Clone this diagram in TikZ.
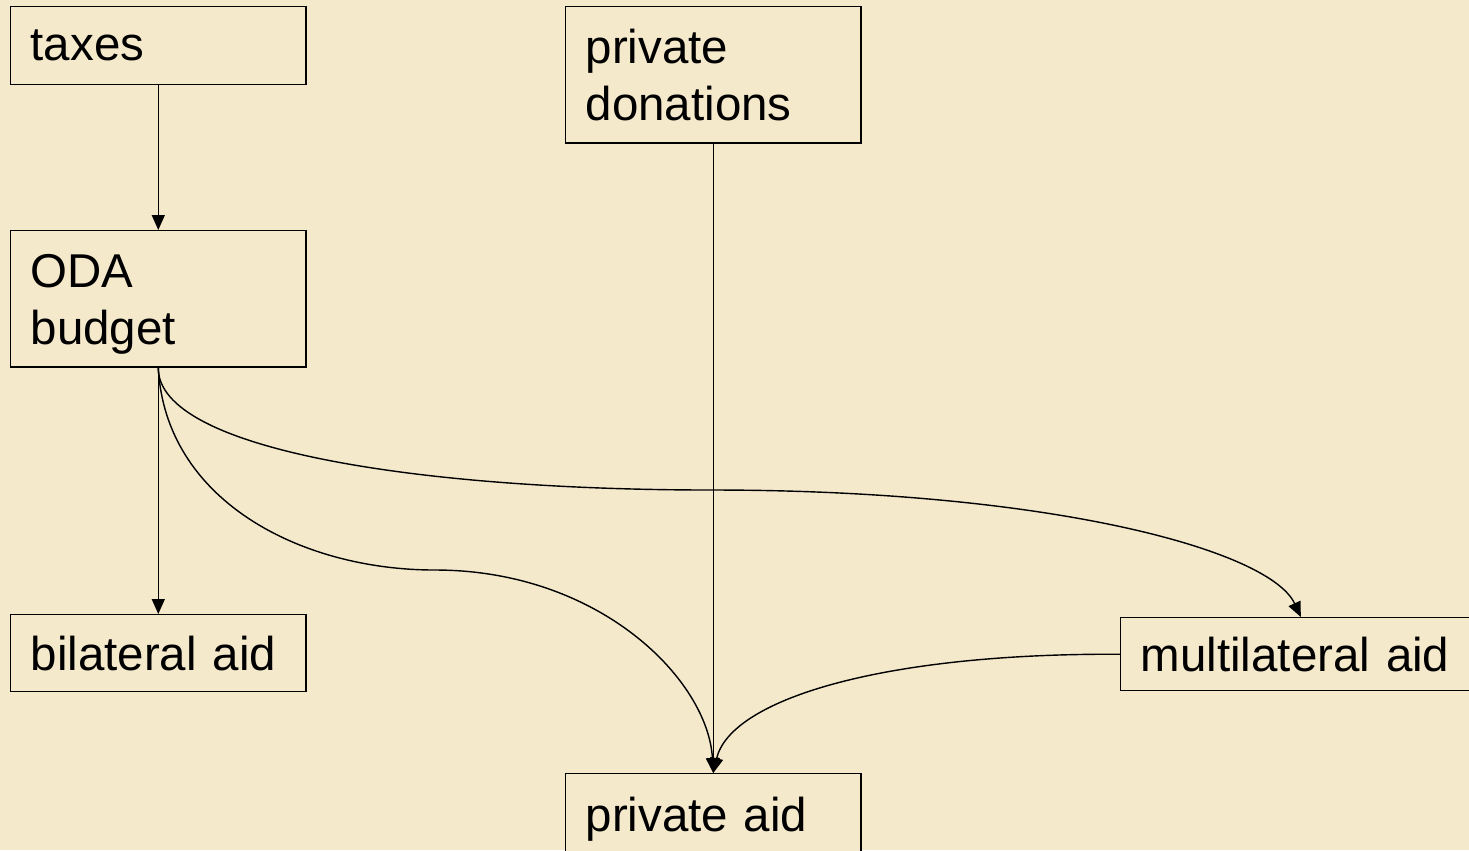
\documentclass[tikz,border=0pt]{standalone}
\usepackage{fontspec}
\setmainfont{Liberation Sans}
\usetikzlibrary{arrows.meta}
\definecolor{bgtan}{RGB}{245,233,204}
\tikzset{
  box/.style={draw, line width=0.4pt, fill=bgtan, anchor=north west, inner xsep=0.2cm,
    align=left, font=\fontsize{13.5pt}{16.2pt}\selectfont},
  flow/.style={line width=0.4pt, -{Triangle[length=0.15cm,width=0.13cm]}}
}
\begin{document}
\begin{tikzpicture}[x=0.01cm,y=-0.01cm]
\fill[bgtan] (0,0) rectangle (1469,850);
\clip (0,0) rectangle (1469,850);
\useasboundingbox (0,0) rectangle (1469,850);
\node[box, text width=2.55cm, minimum height=0.78cm] (taxes) at (10,6) {taxes};
\node[box, text width=2.55cm, minimum height=1.36cm] (donations) at (565,6) {private\\donations};
\node[box, text width=2.55cm, minimum height=1.36cm, text depth=0.56cm] (oda) at (10,230) {ODA\\budget};
\node[box, text width=2.55cm, minimum height=0.77cm] (bilateral) at (10,614) {bilateral aid};
\node[box, text width=3.2cm, minimum height=0.73cm] (multilateral) at (1120,617) {multilateral aid};
\node[box, text width=2.55cm, minimum height=0.9cm] (privateaid) at (565,773) {private aid};
\draw[flow] (taxes) -- (oda);
\draw[flow] (donations) -- (privateaid);
\draw[flow] (oda.south) -- (bilateral.north);
\draw[flow] (oda.south) .. controls (157,450) and (420,490) .. (712,490)
  .. controls (1050,490) and (1270,550) .. (multilateral.north);
\draw[flow] (oda.south) .. controls (165,500) and (300,570) .. (435,570)
  .. controls (600,570) and (708,680) .. (privateaid.north);
\draw[flow] (multilateral.west) .. controls (880,653) and (730,700) .. (privateaid.north);
\end{tikzpicture}
\end{document}
